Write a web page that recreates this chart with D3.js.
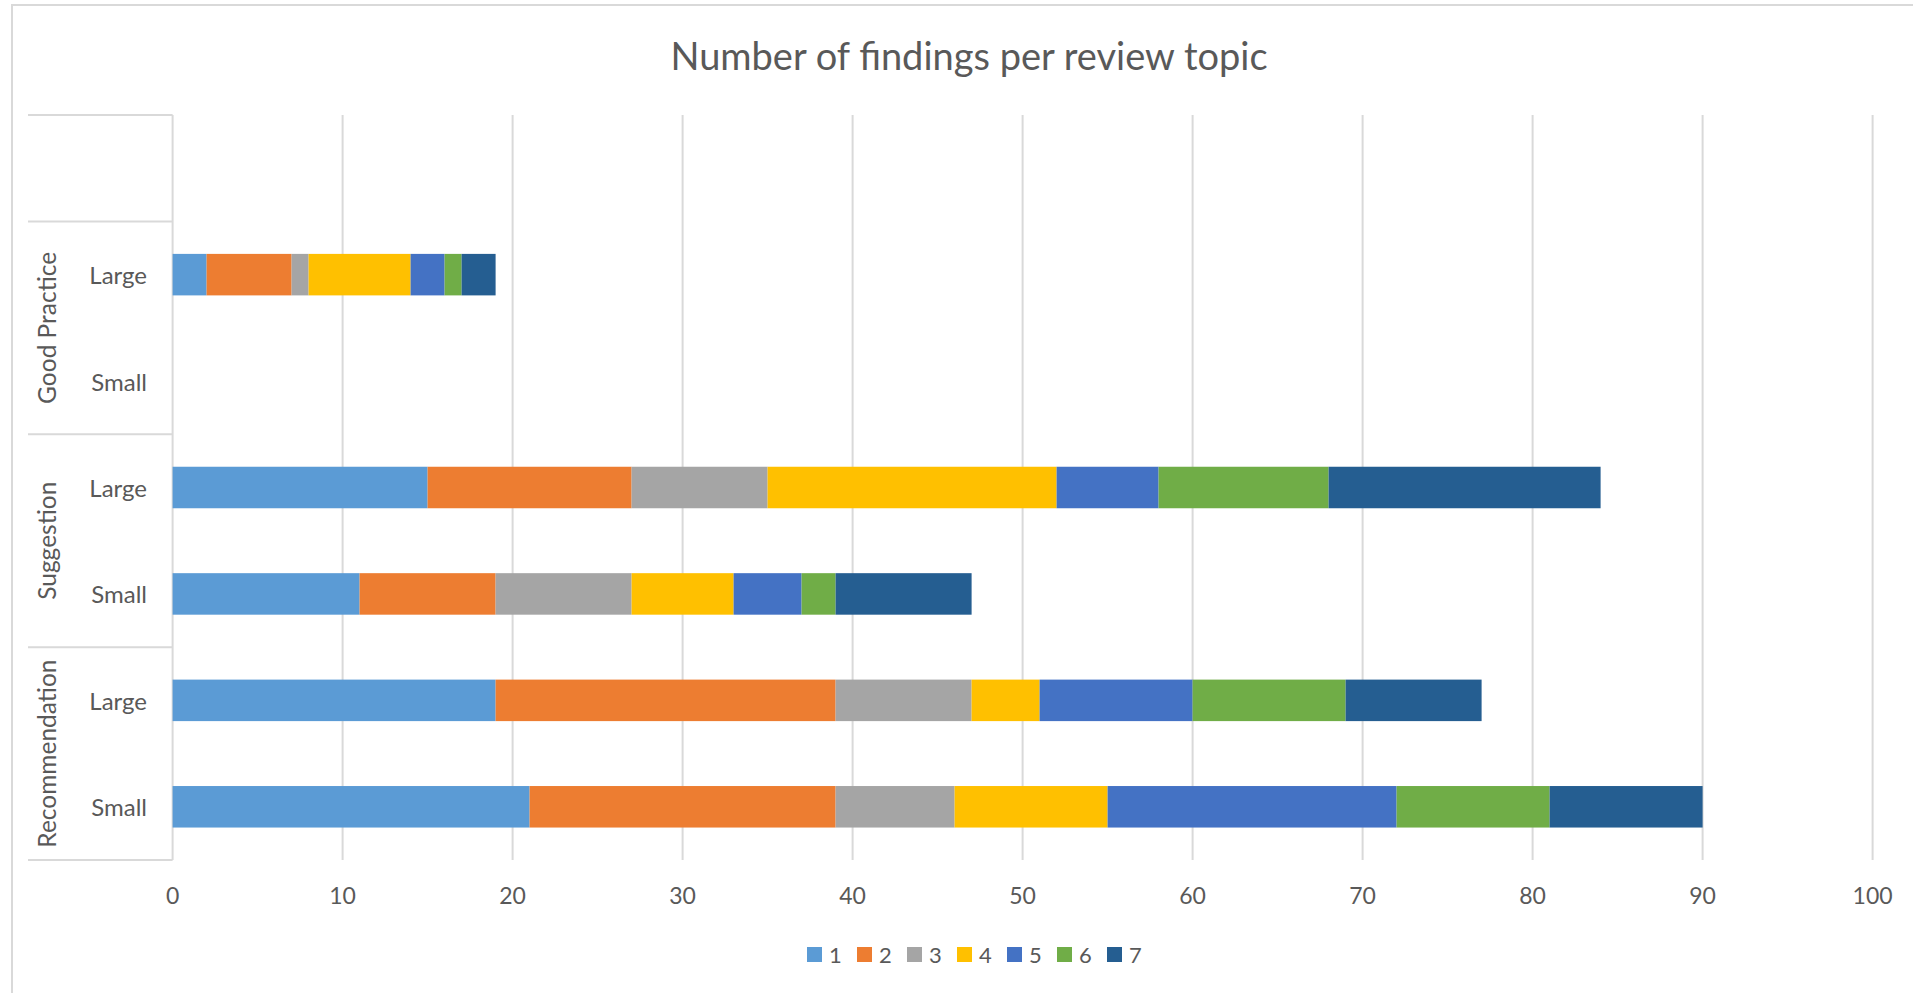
<!DOCTYPE html>
<html>
<head>
<meta charset="utf-8">
<script src="https://cdn.jsdelivr.net/npm/d3@7"></script>
<style>
  body { margin: 0; background: #fff; }
  text { font-family: Lato, 'Open Sans', sans-serif; fill: #595959; }
</style>
</head>
<body>
<script>
let width = 1913;
let height = 993;

// rows top to bottom: group label, size label
const groups = ['', 'Good Practice', 'Suggestion', 'Recommendation'];
const rowGroup = ['', 'Good Practice', 'Good Practice', 'Suggestion', 'Suggestion', 'Recommendation', 'Recommendation'];
const rowSize = ['', 'Large', 'Small', 'Large', 'Small', 'Large', 'Small'];

const seriesNames = ['1', '2', '3', '4', '5', '6', '7'];
const colors = ['#5B9BD5', '#ED7D31', '#A5A5A5', '#FFC000', '#4472C4', '#70AD47', '#255E91'];

// values per series, one per row (same order as rowSize)
const s1 = [0, 2, 0, 15, 11, 19, 21];
const s2 = [0, 5, 0, 12, 8, 20, 18];
const s3 = [0, 1, 0, 8, 8, 8, 7];
const s4 = [0, 6, 0, 17, 6, 4, 9];
const s5 = [0, 2, 0, 6, 4, 9, 17];
const s6 = [0, 1, 0, 10, 2, 9, 9];
const s7 = [0, 2, 0, 16, 8, 8, 9];

const xTicks = [0, 10, 20, 30, 40, 50, 60, 70, 80, 90, 100];

const table = rowSize.map((s, i) => ({
    key: 'r' + i, group: rowGroup[i], size: s,
    '1': s1[i], '2': s2[i], '3': s3[i], '4': s4[i], '5': s5[i], '6': s6[i], '7': s7[i]
}));

const svg = d3.select('body')
    .append('svg')
    .attr('width', width)
    .attr('height', height);

// chart border
svg.append('rect')
    .attr('x', 12).attr('y', 5)
    .attr('width', width).attr('height', height)
    .attr('fill', 'none')
    .attr('stroke', '#d9d9d9')
    .attr('stroke-width', 2);

svg.append('text')
    .attr('x', 969)
    .attr('y', 55)
    .attr('text-anchor', 'middle')
    .attr('dominant-baseline', 'central')
    .style('font-size', '38px')
    .text('Number of findings per review topic');

const x = d3.scaleLinear().domain([0, 100]).range([172.6, 1872.6]);
const y = d3.scaleBand().domain(table.map(d => d.key)).range([115, 860]).padding(0);
const barH = y.bandwidth() * 0.39;

// gridlines
svg.append('g')
    .selectAll('line')
    .data(xTicks)
    .join('line')
    .attr('x1', d => x(d)).attr('x2', d => x(d))
    .attr('y1', 115).attr('y2', 860)
    .attr('stroke', '#d9d9d9')
    .attr('stroke-width', 2);

// x tick labels
svg.append('g')
    .selectAll('text')
    .data(xTicks)
    .join('text')
    .attr('x', d => x(d))
    .attr('y', 895)
    .attr('text-anchor', 'middle')
    .attr('dominant-baseline', 'central')
    .style('font-size', '23px')
    .text(d => d);

// stacked bars
const stack = d3.stack().keys(seriesNames);
const layers = stack(table);

svg.append('g')
    .selectAll('g')
    .data(layers)
    .join('g')
    .attr('fill', (d, i) => colors[i])
    .selectAll('rect')
    .data(d => d)
    .join('rect')
    .attr('x', d => x(d[0]))
    .attr('width', d => x(d[1]) - x(d[0]))
    .attr('y', d => y(d.data.key) + (y.bandwidth() - barH) / 2)
    .attr('height', barH);

// category axis: group boundaries
const boundaries = [0, 1, 3, 5, 7];
svg.append('g')
    .selectAll('line')
    .data(boundaries)
    .join('line')
    .attr('x1', 28).attr('x2', x(0))
    .attr('y1', d => 115 + d * y.step())
    .attr('y2', d => 115 + d * y.step())
    .attr('stroke', '#d9d9d9')
    .attr('stroke-width', 2);

svg.append('g')
    .selectAll('text')
    .data(table.filter(d => d.size !== ''))
    .join('text')
    .attr('x', 147)
    .attr('y', d => y(d.key) + y.bandwidth() / 2)
    .attr('text-anchor', 'end')
    .attr('dominant-baseline', 'central')
    .style('font-size', '24px')
    .text(d => d.size);

svg.append('g')
    .selectAll('text')
    .data(groups.slice(1))
    .join('text')
    .attr('transform', (g, i) => {
        const cy = 115 + (boundaries[i + 1] + boundaries[i + 2]) / 2 * y.step();
        return 'translate(46,' + cy + ') rotate(-90)';
    })
    .attr('text-anchor', 'middle')
    .attr('dominant-baseline', 'central')
    .style('font-size', '24.5px')
    .text(d => d);

// legend
const legend = svg.append('g')
    .selectAll('g')
    .data(seriesNames)
    .join('g')
    .attr('transform', (d, i) => 'translate(' + (807 + i * 50) + ',947)');

legend.append('rect')
    .attr('width', 15)
    .attr('height', 15)
    .attr('fill', (d, i) => colors[i]);

legend.append('text')
    .attr('x', 22)
    .attr('y', 7)
    .attr('dominant-baseline', 'central')
    .style('font-size', '22px')
    .text(d => d);
</script>
</body>
</html>
